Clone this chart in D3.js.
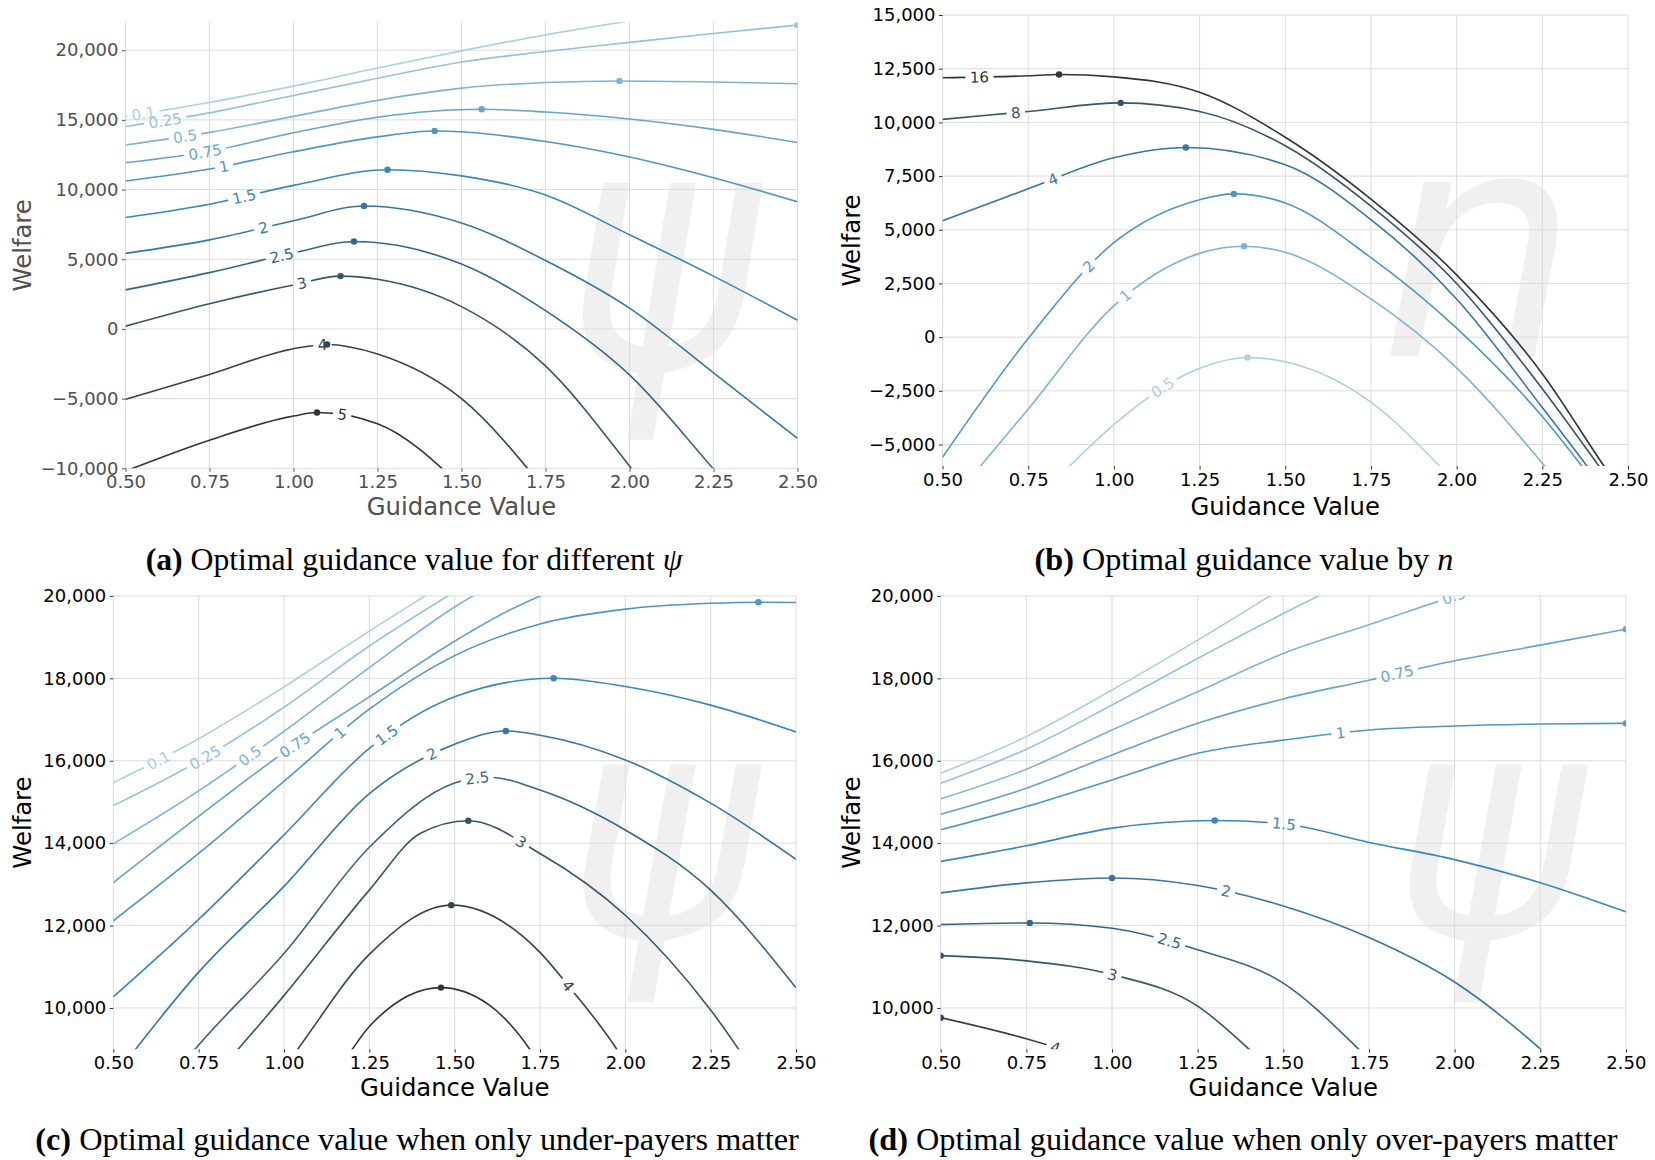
<!DOCTYPE html>
<html><head><meta charset="utf-8">
<script src="https://cdn.jsdelivr.net/npm/d3@7"></script>
<style>
body{margin:0;background:#fff}
svg{display:block}
</style>
</head><body>
<svg id="chart" width="1655" height="1160"></svg>
<script>
// ================= DATA =================
const guidanceTicks = [0.5, 0.75, 1.0, 1.25, 1.5, 1.75, 2.0, 2.25, 2.5];
const psiLevels = ["0.1","0.25","0.5","0.75","1","1.5","2","2.5","3","4","5"];
const nLevels = ["0.5","1","2","4","8","16"];

// (a) welfare by psi
const aYTicks = [-10000,-5000,0,5000,10000,15000,20000];
const aCurves = [
  [[0.5,15250],[0.75,16250],[1.0,17420],[1.25,18720],[1.5,19950],[1.75,21100],[2.0,22100],[2.25,23000]],
  [[0.5,14520],[0.75,15500],[1.0,16750],[1.25,17980],[1.5,19150],[1.75,19900],[2.0,20560],[2.25,21200],[2.5,21800]],
  [[0.5,13200],[0.75,14100],[1.0,15250],[1.25,16400],[1.5,17280],[1.75,17680],[1.97,17790],[2.25,17720],[2.5,17590]],
  [[0.5,11920],[0.75,12750],[1.0,14070],[1.25,15190],[1.56,15760],[1.75,15560],[2.0,15060],[2.25,14320],[2.5,13380]],
  [[0.5,10610],[0.75,11470],[1.0,12710],[1.25,13780],[1.42,14200],[1.75,13450],[2.0,12340],[2.25,10850],[2.5,9120]],
  [[0.5,8000],[0.75,8950],[1.0,10300],[1.28,11420],[1.5,10980],[1.75,9610],[2.0,6760],[2.25,3790],[2.5,620]],
  [[0.5,5420],[0.75,6390],[1.0,7760],[1.21,8820],[1.5,7600],[1.75,4910],[2.0,1490],[2.25,-3150],[2.5,-7850]],
  [[0.5,2800],[0.75,4040],[1.0,5450],[1.18,6270],[1.5,4650],[1.75,1310],[2.0,-3300],[2.25,-10050],[2.5,-17000]],
  [[0.5,200],[0.75,1810],[1.0,3150],[1.14,3790],[1.25,3560],[1.5,1600],[1.75,-2650],[2.0,-9840],[2.25,-18000]],
  [[0.5,-5060],[0.75,-3270],[1.0,-1420],[1.1,-1115],[1.25,-1800],[1.5,-5000],[1.75,-11600]],
  [[0.5,-10200],[0.75,-7980],[1.0,-6250],[1.07,-6000],[1.25,-6800],[1.5,-11300]]
];
const aOptima = [null,[2.5,21800],[1.97,17790],[1.56,15760],[1.42,14200],[1.28,11420],[1.21,8820],[1.18,6270],[1.14,3790],[1.1,-1115],[1.07,-6000]];
const aLabelX = [0.553,0.618,0.677,0.737,0.793,0.853,0.910,0.965,1.025,1.086,1.145];

// (b) welfare by n
const bYTicks = [-5000,-2500,0,2500,5000,7500,10000,12500,15000];
const bCurves = [
  [[0.75,-8000],[0.871,-6000],[1.0,-4070],[1.25,-1450],[1.39,-950],[1.5,-1150],[1.75,-3030],[1.95,-6000],[2.05,-7700]],
  [[0.55,-7150],[0.611,-6000],[0.75,-3350],[1.0,1460],[1.25,3900],[1.38,4230],[1.5,3950],[1.75,1780],[2.0,-1430],[2.257,-6000],[2.35,-7800]],
  [[0.5,-5600],[0.75,-60],[1.0,4400],[1.25,6400],[1.35,6670],[1.5,6250],[1.75,3700],[2.0,420],[2.25,-3700],[2.365,-6000],[2.45,-7800]],
  [[0.5,5420],[0.75,6910],[1.0,8350],[1.21,8830],[1.5,8030],[1.75,5470],[2.0,1780],[2.25,-3280],[2.38,-6000],[2.5,-8600]],
  [[0.5,10140],[0.75,10510],[1.02,10910],[1.25,10510],[1.5,8910],[1.75,6100],[2.0,2500],[2.25,-2400],[2.415,-6000],[2.5,-7900]],
  [[0.5,12080],[0.75,12170],[0.84,12230],[1.0,12120],[1.25,11400],[1.5,9310],[1.75,6430],[2.0,2900],[2.25,-1700],[2.43,-6000],[2.5,-7600]]
];
const bOptima = [[1.39,-950],[1.38,4230],[1.35,6670],[1.21,8830],[1.02,10910],[0.84,12230]];
const bLabelX = [1.142,1.034,0.926,0.822,0.714,0.608];

// (c) only under-payers matter
const cYTicks = [10000,12000,14000,16000,18000,20000];
const cCurves = [
  [[0.5,15468],[0.75,16532],[1.0,17793],[1.25,19144],[1.5,20450]],
  [[0.5,14910],[0.75,15991],[1.0,17297],[1.25,18784],[1.5,20100]],
  [[0.5,13982],[0.75,15270],[1.0,16712],[1.25,18261],[1.5,19730],[1.75,20900]],
  [[0.5,13045],[0.75,14650],[1.0,16200],[1.25,17550],[1.5,18900],[1.66,19650],[1.75,20000],[2.0,20800]],
  [[0.5,12117],[0.75,13750],[1.0,15500],[1.25,17250],[1.5,18550],[1.75,19320],[2.0,19680],[2.25,19820],[2.39,19847],[2.5,19840]],
  [[0.5,10270],[0.75,12150],[1.0,14200],[1.25,16300],[1.5,17550],[1.79,18000],[2.0,17800],[2.25,17350],[2.5,16700]],
  [[0.5,8300],[0.75,10870],[1.0,12950],[1.25,15200],[1.5,16400],[1.65,16723],[1.75,16620],[2.0,16020],[2.25,14970],[2.5,13610]],
  [[0.5,6500],[0.75,9100],[1.0,11320],[1.25,13900],[1.5,15460],[1.6,15600],[1.75,15290],[2.0,14320],[2.25,12860],[2.5,10490]],
  [[0.75,7900],[1.0,10300],[1.25,12860],[1.4,14240],[1.54,14545],[1.75,13750],[2.0,12250],[2.25,9950],[2.5,6800]],
  [[0.9,7400],[1.04,9000],[1.25,11300],[1.49,12495],[1.75,11350],[1.833,10540],[1.975,9000],[2.1,7200]],
  [[1.1,7800],[1.2,9000],[1.25,9550],[1.46,10495],[1.6,10080],[1.72,9000],[1.8,7900]]
];
const cOptima = [null,null,null,null,[2.39,19847],[1.79,18000],[1.65,16723],null,[1.54,14545],[1.49,12495],[1.46,10495]];
const cLabelX = [0.632,0.769,0.900,1.032,1.164,1.301,1.433,1.566,1.695,1.833,null];

// (d) only over-payers matter
const dYTicks = [10000,12000,14000,16000,18000,20000];
const dCurves = [
  [[0.5,15696],[0.75,16585],[1.0,17715],[1.25,18926],[1.5,20200]],
  [[0.5,15454],[0.75,16278],[1.0,17352],[1.25,18482],[1.5,19572],[1.75,20600]],
  [[0.5,15075],[0.75,15794],[1.0,16746],[1.25,17675],[1.5,18603],[1.75,19300],[2.0,20000],[2.25,20650]],
  [[0.5,14703],[0.75,15333],[1.0,16140],[1.25,16907],[1.5,17500],[1.75,17955],[2.0,18426],[2.25,18805],[2.5,19193]],
  [[0.5,14324],[0.75,14889],[1.0,15535],[1.25,16181],[1.5,16500],[1.75,16746],[2.0,16843],[2.25,16891],[2.5,16907]],
  [[0.5,13557],[0.75,13937],[1.0,14364],[1.3,14550],[1.5,14470],[1.75,14017],[2.0,13600],[2.25,13040],[2.5,12333]],
  [[0.5,12793],[0.75,13036],[1.0,13153],[1.25,12973],[1.5,12477],[1.75,11711],[2.0,10630],[2.25,9009],[2.5,7000]],
  [[0.5,12027],[0.76,12063],[1.0,11937],[1.25,11414],[1.5,10603],[1.72,9000],[1.85,7900]],
  [[0.5,11270],[0.75,11144],[1.0,10811],[1.25,10045],[1.4,9000],[1.5,8200]],
  [[0.5,9766],[0.75,9252],[0.85,9000],[0.95,8700]],
  null
];
const dOptima = [null,null,null,[2.5,19193],[2.5,16907],[1.3,14550],[1.0,13153],[0.76,12063],[0.5,11270],[0.5,9766],null];
const dLabelX = [null,null,1.998,1.832,1.667,1.502,1.333,1.168,1.001,0.835,null];

// ================= DRAWING =================
const W = 1655, H = 1160;
const svg = d3.select("#chart");
svg.append("rect").attr("width",W).attr("height",H).attr("fill","#fff");
const defs = svg.append("defs");
const SANS = "DejaVu Sans, sans-serif";
const SERIF = "Liberation Serif, serif";

// seaborn "Blues_d"-like blend: light blue -> blue -> dark gray
function paletteColor(i, n){
  const t = n > 1 ? i/(n-1) : 0;
  return t <= 0.5 ? d3.interpolateRgb("#abd0e6","#3787c0")(t*2)
                  : d3.interpolateRgb("#3787c0","#333333")((t-0.5)*2);
}

function drawPanel(p){
  const sx = d3.scaleLinear().domain([0.5,2.5]).range([p.x0,p.x1]);
  const sy = d3.scaleLinear().domain(p.yDomain).range([p.y1,p.y0]);
  const g = svg.append("g");

  defs.append("clipPath").attr("id","clip"+p.id)
    .append("rect").attr("x",p.x0).attr("y",p.y0).attr("width",p.x1-p.x0).attr("height",p.y1-p.y0);
  const mask = defs.append("mask").attr("id","mask"+p.id)
    .attr("maskUnits","userSpaceOnUse").attr("x",0).attr("y",0).attr("width",W).attr("height",H);
  mask.append("rect").attr("x",0).attr("y",0).attr("width",W).attr("height",H).attr("fill","#fff");

  // watermark
  g.append("text").attr("transform",`translate(${p.wm.x},${p.wm.y}) scale(${p.wm.sx},1)`)
    .attr("font-family",SANS).attr("font-style","italic").attr("font-size",p.wm.size)
    .attr("text-anchor","middle").attr("fill","#f0f0f0").text(p.wm.t);

  // grid
  g.append("g").selectAll("line").data(guidanceTicks).join("line")
    .attr("x1",d=>sx(d)).attr("x2",d=>sx(d)).attr("y1",p.y0).attr("y2",p.y1)
    .attr("stroke","#dcdcdc").attr("stroke-width",1);
  g.append("g").selectAll("line").data(p.yTicks).join("line")
    .attr("x1",p.x0).attr("x2",p.x1).attr("y1",d=>sy(d)).attr("y2",d=>sy(d))
    .attr("stroke","#dcdcdc").attr("stroke-width",1);

  // axes
  const xa = g.append("g").attr("transform",`translate(0,${p.y1})`)
    .call(d3.axisBottom(sx).tickValues(guidanceTicks).tickFormat(d3.format(".2f")).tickSize(3.5).tickPadding(3.5));
  const ya = g.append("g").attr("transform",`translate(${p.x0},0)`)
    .call(d3.axisLeft(sy).tickValues(p.yTicks).tickFormat(d3.format(",")).tickSize(3.5).tickPadding(3.5));
  [xa,ya].forEach(a=>{
    a.select(".domain").remove();
    a.selectAll(".tick line").attr("stroke",p.tickColor);
    a.selectAll("text").attr("font-family",SANS).attr("font-size",18).attr("fill",p.textColor);
    a.attr("font-family",SANS).attr("font-size",18);
  });

  // axis labels
  g.append("text").attr("x",(p.x0+p.x1)/2).attr("y",p.xLabelY)
    .attr("text-anchor","middle").attr("font-family",SANS).attr("font-size",24.3)
    .attr("fill",p.textColor).text("Guidance Value");
  g.append("text").attr("transform",`translate(${p.yLabelX},${(p.y0+p.y1)/2}) rotate(-90)`)
    .attr("text-anchor","middle").attr("font-family",SANS).attr("font-size",24.3)
    .attr("fill",p.textColor).text("Welfare");

  // curves
  const cg = g.append("g").attr("clip-path",`url(#clip${p.id})`);
  const lg = cg.append("g").attr("mask",`url(#mask${p.id})`);
  const line = d3.line().x(d=>sx(d[0])).y(d=>sy(d[1])).curve(d3.curveMonotoneX);
  const n = p.levels.length;
  p.curves.forEach((c,i)=>{
    if(!c) return;
    const col = paletteColor(i,n);
    const path = lg.append("path").attr("d",line(c)).attr("fill","none")
      .attr("stroke",col).attr("stroke-width",1.6);
    const lx = p.labelX[i];
    if(lx!=null){
      const node = path.node();
      const L = node.getTotalLength();
      const tx = sx(lx);
      let lo=0, hi=L;
      for(let k=0;k<40;k++){ const m=(lo+hi)/2; if(node.getPointAtLength(m).x<tx) lo=m; else hi=m; }
      const pt = node.getPointAtLength(lo);
      const a1 = node.getPointAtLength(Math.max(0,lo-7)), a2 = node.getPointAtLength(Math.min(L,lo+7));
      const ang = Math.atan2(a2.y-a1.y, a2.x-a1.x)*180/Math.PI;
      const t = cg.append("text").attr("transform",`translate(${pt.x},${pt.y}) rotate(${ang})`)
        .attr("text-anchor","middle").attr("dy","0.36em")
        .attr("font-family",SANS).attr("font-size",15).attr("fill",col).text(p.levels[i]);
      const w = t.node().getComputedTextLength();
      mask.append("rect").attr("x",-w/2-4.5).attr("y",-7).attr("width",w+9).attr("height",14)
        .attr("transform",`translate(${pt.x},${pt.y}) rotate(${ang})`).attr("fill","#000");
    }
  });
  // optimum dots
  p.optima.forEach((o,i)=>{
    if(!o) return;
    cg.append("circle").attr("cx",sx(o[0])).attr("cy",sy(o[1])).attr("r",3.2)
      .attr("fill",paletteColor(i,n));
  });
}

drawPanel({id:"a",x0:125.5,x1:797.5,y0:22.3,y1:468.3,yDomain:[-10000,22000],yTicks:aYTicks,
  curves:aCurves,optima:aOptima,labelX:aLabelX,levels:psiLevels,
  textColor:"#4f4f4f",tickColor:"#4f4f4f",xLabelY:515,yLabelX:31,
  wm:{t:"ψ",x:662,y:369,size:340,sx:0.86}});
drawPanel({id:"b",x0:942.5,x1:1628,y0:15,y1:466,yDomain:[-6000,15000],yTicks:bYTicks,
  curves:bCurves,optima:bOptima,labelX:bLabelX,levels:nLevels,
  textColor:"#000",tickColor:"#333",xLabelY:515,yLabelX:860,
  wm:{t:"n",x:1479,y:356,size:318,sx:0.99}});
drawPanel({id:"c",x0:113.3,x1:796,y0:595.9,y1:1049.2,yDomain:[9000,20000],yTicks:cYTicks,
  curves:cCurves,optima:cOptima,labelX:cLabelX,levels:psiLevels,
  textColor:"#000",tickColor:"#333",xLabelY:1096,yLabelX:31,
  wm:{t:"ψ",x:662,y:937,size:315,sx:0.92}});
drawPanel({id:"d",x0:940.7,x1:1625.9,y0:595.9,y1:1049.2,yDomain:[9000,20000],yTicks:dYTicks,
  curves:dCurves,optima:dOptima,labelX:dLabelX,levels:psiLevels,
  textColor:"#000",tickColor:"#333",xLabelY:1096,yLabelX:860,
  wm:{t:"ψ",x:1488,y:937,size:315,sx:0.92}});

// captions
function caption(parts, cx, baseline, targetW){
  const t = svg.append("text").attr("y",baseline).attr("font-family",SERIF).attr("font-size",30).attr("fill","#000");
  parts.forEach(pt=>{
    const s = t.append("tspan").text(pt.s);
    if(pt.b) s.attr("font-weight","bold");
    if(pt.i) s.attr("font-style","italic");
  });
  const w = t.node().getComputedTextLength();
  const fs = 30*targetW/w;
  t.attr("font-size",fs);
  const w2 = t.node().getComputedTextLength();
  t.attr("x",cx-w2/2);
}
caption([{s:"(a)",b:true},{s:" Optimal guidance value for different "},{s:"ψ",i:true}],414,570,537);
caption([{s:"(b)",b:true},{s:" Optimal guidance value by "},{s:"n",i:true}],1244,570,419);
caption([{s:"(c)",b:true},{s:" Optimal guidance value when only under-payers matter"}],417,1150,764);
caption([{s:"(d)",b:true},{s:" Optimal guidance value when only over-payers matter"}],1243,1150,749);
</script>
</body></html>
